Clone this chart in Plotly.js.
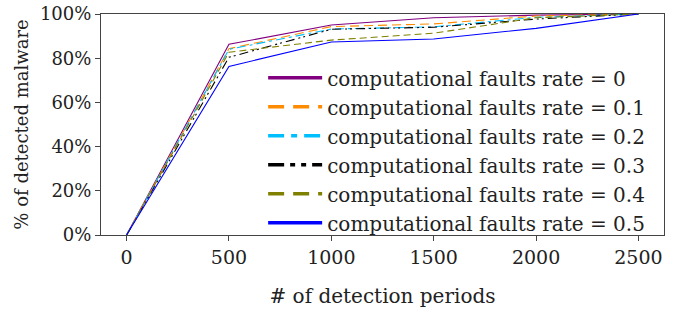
<!DOCTYPE html>
<html>
<head>
<meta charset="utf-8">
<script src="https://cdn.plot.ly/plotly-3.0.1.min.js"></script>
<style>html,body{margin:0;padding:0;background:#fff;}#chart{width:689px;height:314px;}</style>
</head>
<body>
<div id="chart"></div>
<script>
const periods = [0, 500, 1000, 1500, 2000, 2500];
const rate0   = [0, 86.3, 95.0, 98.3, 99.5, 100];
const rate01  = [0, 84.3, 94.3, 95.5, 99.1, 100];
const rate02  = [0, 84.0, 93.2, 94.2, 98.5, 100];
const rate03  = [0, 80.4, 93.1, 94.0, 97.7, 100];
const rate04  = [0, 82.7, 88.2, 91.3, 98.3, 100];
const rate05  = [0, 76.3, 87.3, 88.7, 93.5, 100];
const yTickVals = [0, 20, 40, 60, 80, 100];
const yTickText = ['0%', '20%', '40%', '60%', '80%', '100%'];
const labels = ['computational faults rate = 0','computational faults rate = 0.1','computational faults rate = 0.2','computational faults rate = 0.3','computational faults rate = 0.4','computational faults rate = 0.5'];
const colors = ['#800080','#ff8c00','#00bfff','#000000','#808000','#0000ff'];
const dashes = ['solid','9px,5px','9px,4px,3px,4px','9px,4px,2px,3px,2px,4px','7px,4px','solid'];
const series = [rate0, rate01, rate02, rate03, rate04, rate05];

const traces = [];
series.forEach((s, i) => {
  traces.push({x: periods, y: s, type: 'scatter', mode: 'lines', showlegend: false,
    line: {color: colors[i], width: 1.1, dash: dashes[i]}, hoverinfo: 'skip'});
});
const legDash = ['solid','16px,9px','16px,7px,6px,7px','16px,6px,5px,6px,5px,6px','16px,9px','solid'];
series.forEach((s, i) => {
  traces.push({x: [null], y: [null], type: 'scatter', mode: 'lines', name: labels[i],
    line: {color: colors[i], width: 3.5, dash: legDash[i]}});
});

const font = "'DejaVu Serif', serif";
const layout = {
  width: 689, height: 314,
  margin: {l: 101, r: 25, t: 14, b: 79},
  paper_bgcolor: '#fff', plot_bgcolor: '#fff',
  font: {family: font, size: 20, color: '#222'},
  showlegend: true,
  legend: {x: 0.288, y: 0.80, xanchor: 'left', yanchor: 'top', bgcolor: 'rgba(0,0,0,0)',
    font: {family: font, size: 20, color: '#222'}, itemwidth: 54, tracegroupgap: 0},
  xaxis: {range: [-125, 2625], tickvals: periods,
    ticks: 'outside', ticklen: 5, tickcolor: '#444', showgrid: false, zeroline: false,
    showline: true, linecolor: '#444', linewidth: 1, mirror: true,
    tickfont: {family: font, size: 19, color: '#222'},
    title: {text: '# of detection periods', font: {family: font, size: 20, color: '#222'}, standoff: 22}},
  yaxis: {range: [0, 100], tickvals: yTickVals, ticktext: yTickText, tickmode: 'array',
    ticks: 'outside', ticklen: 5, tickcolor: '#444', showgrid: false, zeroline: false,
    showline: true, linecolor: '#444', linewidth: 1, mirror: true,
    tickfont: {family: font, size: 18, color: '#222'},
    title: {text: '% of detected malware', font: {family: font, size: 18, color: '#222'}, standoff: 6}}
};
Plotly.newPlot('chart', traces, layout, {displayModeBar: false, staticPlot: true});
</script>
</body>
</html>
